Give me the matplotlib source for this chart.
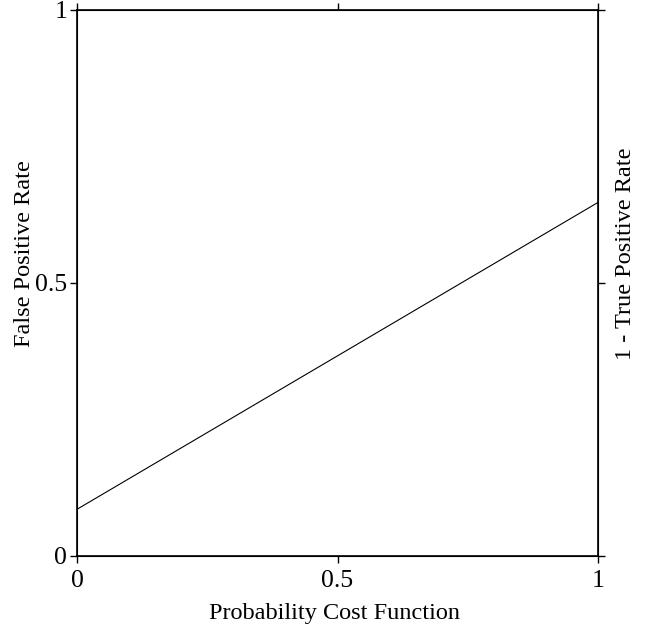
import matplotlib.pyplot as plt

plt.rcParams['font.family'] = ['Liberation Serif', 'DejaVu Serif']

# cost line endpoints (probability cost vs normalized expected cost)
pc = [0, 1]
cost = [0.0855, 0.647]
ticks = [0, 0.5, 1]
tick_labels = ['0', '0.5', '1']

fig = plt.figure(figsize=(6.55, 6.25), dpi=100)
ax = fig.add_axes([0.1176, 0.1104, 0.7954, 0.8744])
ax.plot(pc, cost, color='black', linewidth=0.8)

ax.set_xlim(0, 1)
ax.set_ylim(0, 1)
ax.set_xticks(ticks)
ax.set_xticklabels(tick_labels)
ax.set_yticks(ticks)
ax.set_yticklabels(tick_labels)
ax.tick_params(direction='out', length=5, width=1, labelsize=18.5, pad=2,
               top=True, right=True, labeltop=False, labelright=False)
ax.tick_params(axis='x', pad=5)
for s in ax.spines.values():
    s.set_linewidth(1.2)

ax.set_xlabel('Probability Cost Function', fontsize=17.5, labelpad=8, x=0.495)
ax.set_ylabel('False Positive Rate', fontsize=17.5, labelpad=0, y=0.553)

ax2 = ax.twinx()
ax2.set_ylim(0, 1)
ax2.set_yticks(ticks)
ax2.set_yticklabels([])
ax2.tick_params(direction='out', length=5, width=1)
ax2.set_ylabel('1 - True Positive Rate', fontsize=17.5, labelpad=4, y=0.553)

fig.savefig('out.png', dpi=100)
